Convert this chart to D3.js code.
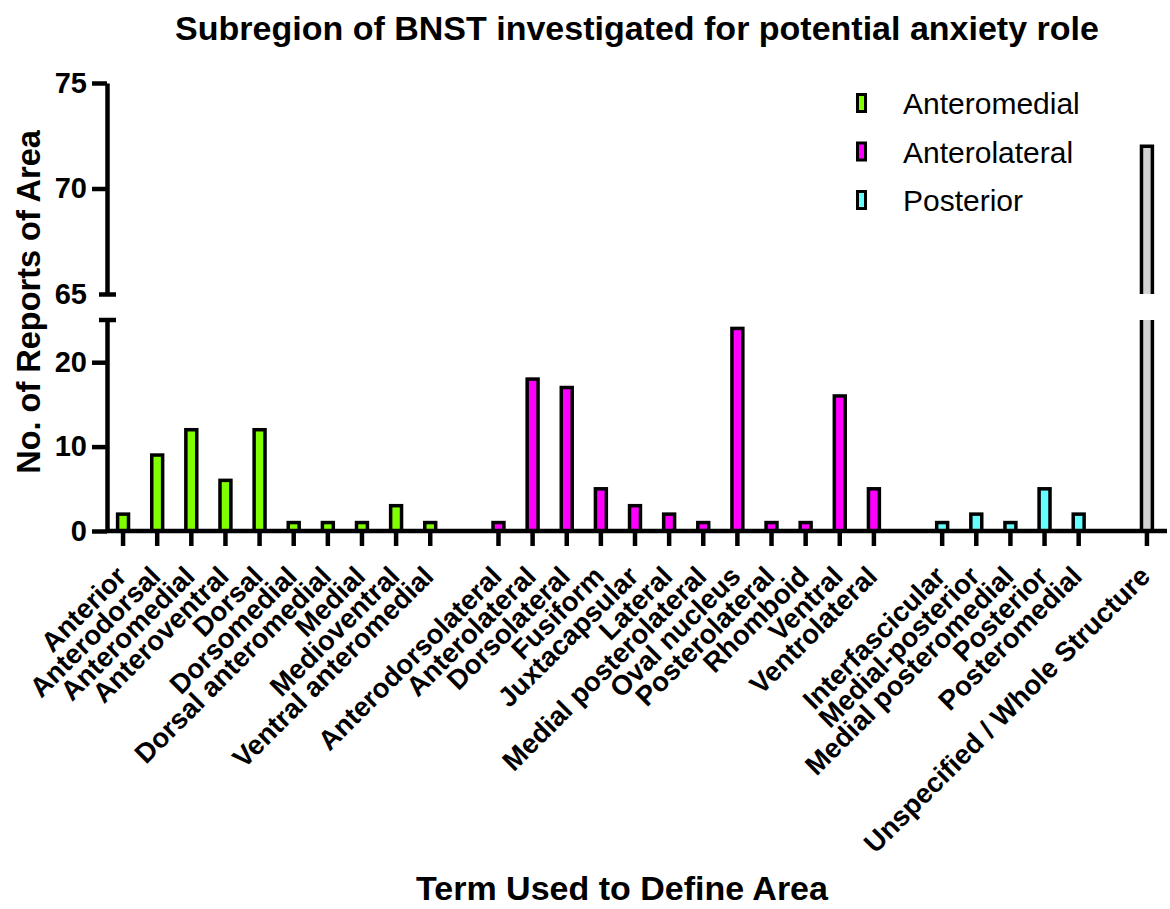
<!DOCTYPE html>
<html>
<head>
<meta charset="utf-8">
<script src="https://cdn.jsdelivr.net/npm/d3@7"></script>
<style>
  body { margin: 0; background: #fff; }
  text { font-family: "Liberation Sans", Arial, sans-serif; }
</style>
</head>
<body>
<div id="chart"></div>
<script>
// data
var groups = ["Anteromedial", "Anterolateral", "Posterior"];
var groupColors = ["#80ff00", "#ff00ff", "#66ffff"];

var amLabels = ["Anterior", "Anterodorsal", "Anteromedial", "Anteroventral", "Dorsal",
                "Dorsomedial", "Dorsal anteromedial", "Medial", "Medioventral", "Ventral anteromedial"];
var amValues = [2, 9, 12, 6, 12, 1, 1, 1, 3, 1];

var alLabels = ["Anterodorsolateral", "Anterolateral", "Dorsolateral", "Fusiform", "Juxtacapsular",
                "Lateral", "Medial posterolateral", "Oval nucleus", "Posterolateral", "Rhomboid",
                "Ventral", "Ventrolateral"];
var alValues = [1, 18, 17, 5, 3, 2, 1, 24, 1, 1, 16, 5];

var postLabels = ["Interfascicular", "Medial-posterior", "Medial posteromedial", "Posterior", "Posteromedial"];
var postValues = [1, 2, 1, 5, 2];

var wholeLabels = ["Unspecified / Whole Structure"];
var wholeValues = [72];

var yTicksLow = [0, 10, 20];
var yTicksHigh = [65, 70, 75];

var W = 1170, H = 909;
var svg = d3.select("#chart").append("svg")
            .attr("width", W)
            .attr("height", H);

// build slot list, with one empty slot between groups
var rows = [];
var slots = [];
function addGroup(labels, values, color, gi) {
    labels.forEach(function (l, i) {
        var key = gi + ":" + l;
        rows.push({key: key, label: l, value: values[i], color: color});
        slots.push(key);
    });
}
addGroup(amLabels, amValues, groupColors[0], 0);
slots.push("gap0");
addGroup(alLabels, alValues, groupColors[1], 1);
slots.push("gap1");
addGroup(postLabels, postValues, groupColors[2], 2);
slots.push("gap2");
addGroup(wholeLabels, wholeValues, "#d3d3d3", 3);

var labelOf = {};
rows.forEach(function (r) { labelOf[r.key] = r.label; });

var x = d3.scaleBand().domain(slots).range([106, 1164]);
var yLow = d3.scaleLinear().domain([0, 25]).range([531, 320]);
var yHigh = d3.scaleLinear().domain([65, 75]).range([294, 83]);

var barW = x.bandwidth() * 0.32;

// bars
var bars = svg.append("g");
rows.forEach(function (r) {
    var cx = x(r.key) + x.bandwidth() / 2;
    if (r.value <= 25) {
        bars.append("rect")
            .attr("x", cx - barW / 2)
            .attr("y", yLow(r.value))
            .attr("width", barW)
            .attr("height", yLow(0) - yLow(r.value))
            .attr("fill", r.color)
            .attr("stroke", "#000")
            .attr("stroke-width", 3.5);
    } else {
        // broken bar: lower part up to the break, upper part from the break
        bars.append("rect")
            .attr("x", cx - barW / 2).attr("y", yLow(25))
            .attr("width", barW).attr("height", yLow(0) - yLow(25))
            .attr("fill", r.color);
        bars.append("path")
            .attr("d", "M" + (cx - barW / 2) + "," + yLow(25) + "V" + yLow(0) +
                       "H" + (cx + barW / 2) + "V" + yLow(25))
            .attr("fill", "none").attr("stroke", "#000").attr("stroke-width", 3.5);
        bars.append("rect")
            .attr("x", cx - barW / 2).attr("y", yHigh(r.value))
            .attr("width", barW).attr("height", yHigh(65) - yHigh(r.value))
            .attr("fill", r.color);
        bars.append("path")
            .attr("d", "M" + (cx - barW / 2) + "," + yHigh(65) + "V" + yHigh(r.value) +
                       "H" + (cx + barW / 2) + "V" + yHigh(65))
            .attr("fill", "none").attr("stroke", "#000").attr("stroke-width", 3.5);
    }
});

// x axis
var xAxis = d3.axisBottom(x)
              .tickValues(rows.map(function (r) { return r.key; }))
              .tickSize(15)
              .tickSizeOuter(0)
              .tickFormat(function (k) { return labelOf[k]; });

var gx = svg.append("g")
    .attr("transform", "translate(0,531)")
    .call(xAxis);
gx.select(".domain").attr("stroke-width", 4.5).attr("d", "M106,0H1167");
gx.selectAll(".tick line").attr("stroke-width", 4.5);
gx.selectAll(".tick text")
    .attr("x", 0).attr("y", 0).attr("dy", 0)
    .attr("text-anchor", "end")
    .attr("transform", "translate(5,47) rotate(-45)")
    .attr("font-size", 27.5)
    .attr("font-weight", "bold")
    .attr("fill", "#000");

// y axis, lower segment
var gyLow = svg.append("g")
    .attr("transform", "translate(107,0)")
    .call(d3.axisLeft(yLow).tickValues(yTicksLow).tickSize(15).tickSizeOuter(0));
// y axis, upper segment
var gyHigh = svg.append("g")
    .attr("transform", "translate(107,0)")
    .call(d3.axisLeft(yHigh).tickValues(yTicksHigh).tickSize(15).tickSizeOuter(0));

[gyLow, gyHigh].forEach(function (g) {
    g.select(".domain").attr("stroke-width", 4.5);
    g.selectAll(".tick line").attr("stroke-width", 4.5);
    g.selectAll(".tick text")
        .attr("x", -20)
        .attr("font-size", 29)
        .attr("font-weight", "bold")
        .attr("fill", "#000");
});
// break caps
gyHigh.selectAll(".tick").filter(function (d) { return d === 65; })
    .select("line").attr("x1", -8).attr("x2", 9);
svg.append("line")
    .attr("x1", 99).attr("x2", 116)
    .attr("y1", yLow(25)).attr("y2", yLow(25))
    .attr("stroke", "#000").attr("stroke-width", 4.5);

// titles
svg.append("text")
    .attr("x", 637).attr("y", 40)
    .attr("text-anchor", "middle")
    .attr("font-size", 34).attr("font-weight", "bold")
    .text("Subregion of BNST investigated for potential anxiety role");

svg.append("text")
    .attr("transform", "translate(40,302) rotate(-90)")
    .attr("text-anchor", "middle")
    .attr("font-size", 32.5).attr("font-weight", "bold")
    .text("No. of Reports of Area");

svg.append("text")
    .attr("x", 622).attr("y", 900)
    .attr("text-anchor", "middle")
    .attr("font-size", 34).attr("font-weight", "bold")
    .text("Term Used to Define Area");

// legend
var legend = svg.append("g").attr("transform", "translate(856,103)");
groups.forEach(function (g, i) {
    var row = legend.append("g").attr("transform", "translate(0," + (i * 48.5) + ")");
    row.append("rect")
        .attr("x", 1.5).attr("y", -8.5)
        .attr("width", 8).attr("height", 17)
        .attr("fill", groupColors[i])
        .attr("stroke", "#000").attr("stroke-width", 3);
    row.append("text")
        .attr("x", 47).attr("y", 11)
        .attr("font-size", 30)
        .text(g);
});
</script>
</body>
</html>
